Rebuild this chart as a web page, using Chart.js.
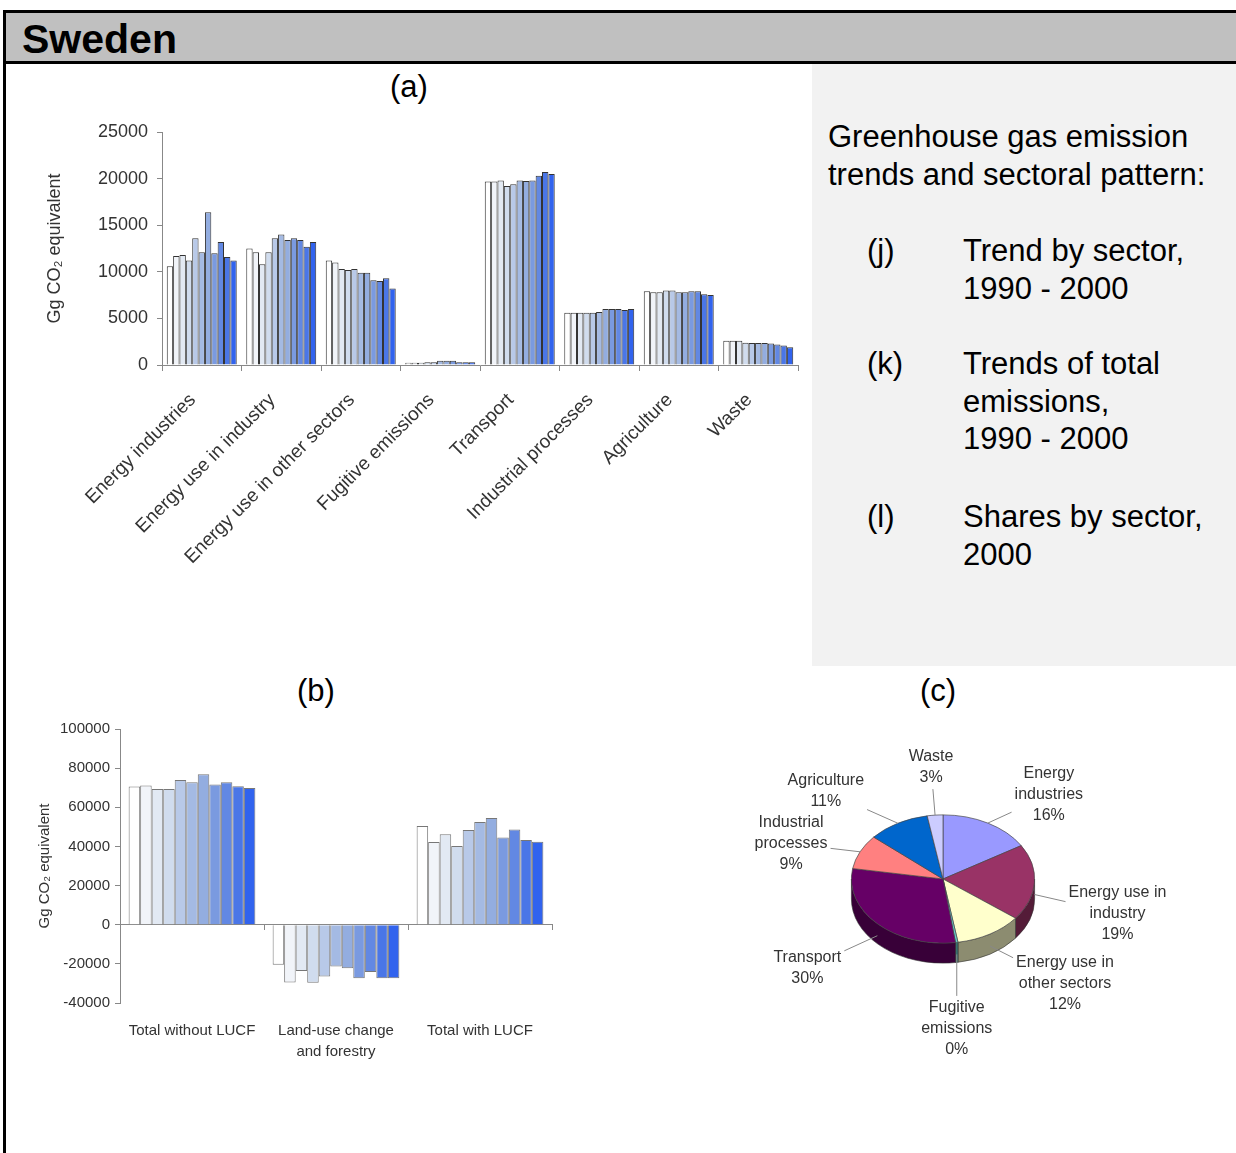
<!DOCTYPE html>
<html>
<head>
<meta charset="utf-8">
<script src="https://cdn.jsdelivr.net/npm/chart.js@4.4.1/dist/chart.umd.min.js"></script>
<style>
  body { margin: 0; width: 1236px; height: 1153px; position: relative; overflow: hidden; background: #fff;
         font-family: "Liberation Sans", Arial, sans-serif; color: #000; }
  .abs { position: absolute; }
  #frameTop { left: 3px; top: 10px; width: 1233px; height: 3px; background: #000; }
  #frameLeft { left: 3px; top: 10px; width: 3px; height: 1143px; background: #000; }
  #header { left: 6px; top: 13px; width: 1230px; height: 48px; background: #c0c0c0; }
  #headerLine { left: 3px; top: 61px; width: 1233px; height: 3px; background: #000; }
  #country { left: 22px; top: 15px; font-size: 41px; font-weight: bold; line-height: 48px; }
  #panel { left: 812px; top: 64px; width: 424px; height: 602px; background: #f2f2f2; }
  .ptxt { font-size: 31px; line-height: 37.7px; white-space: nowrap; }
  .tag { font-size: 31px; line-height: 37.7px; width: 80px; text-align: center; }
  canvas { position: absolute; }
</style>
</head>
<body>
<div class="abs" id="header"></div>
<div class="abs" id="frameTop"></div>
<div class="abs" id="frameLeft"></div>
<div class="abs" id="headerLine"></div>
<div class="abs" id="country">Sweden</div>
<div class="abs" id="panel"></div>

<div class="abs ptxt" style="left:828px; top:118px;">Greenhouse gas emission<br>trends and sectoral pattern:</div>
<div class="abs ptxt" style="left:867px; top:232px;">(j)</div>
<div class="abs ptxt" style="left:963px; top:232px;">Trend by sector,<br>1990 - 2000</div>
<div class="abs ptxt" style="left:867px; top:345px;">(k)</div>
<div class="abs ptxt" style="left:963px; top:345px;">Trends of total<br>emissions,<br>1990 - 2000</div>
<div class="abs ptxt" style="left:867px; top:498px;">(l)</div>
<div class="abs ptxt" style="left:963px; top:498px;">Shares by sector,<br>2000</div>

<div class="abs tag" style="left:369px; top:68px;">(a)</div>
<div class="abs tag" style="left:276px; top:672px;">(b)</div>
<div class="abs tag" style="left:898px; top:672px;">(c)</div>

<canvas id="chartA" width="790" height="500" style="left:30px; top:110px;"></canvas>
<canvas id="chartB" width="570" height="400" style="left:20px; top:700px;"></canvas>
<canvas id="chartC" width="460" height="330" style="left:740px; top:735px;"></canvas>

<script>
// years shown as bars inside every group
const years = ['1990', '1991', '1992', '1993', '1994', '1995', '1996', '1997', '1998', '1999', '2000'];

// (a) trend by sector, Gg CO2 equivalent
const sectors = ['Energy industries', 'Energy use in industry', 'Energy use in other sectors',
  'Fugitive emissions', 'Transport', 'Industrial processes', 'Agriculture', 'Waste'];
const energyIndustries = [10600, 11700, 11800, 11200, 13600, 12100, 16400, 12000, 13200, 11600, 11200];
const energyUseIndustry = [12500, 12100, 10800, 12100, 13600, 14000, 13400, 13600, 13400, 12700, 13200];
const energyUseOther = [11200, 11000, 10300, 10200, 10300, 9900, 9900, 9100, 9000, 9300, 8200];
const fugitive = [250, 250, 250, 300, 300, 450, 450, 450, 300, 300, 300];
const transport = [19700, 19700, 19800, 19200, 19400, 19800, 19750, 19800, 20300, 20700, 20500];
const industrialProcesses = [5600, 5600, 5600, 5600, 5600, 5700, 6000, 6000, 6000, 5900, 6000];
const agriculture = [7900, 7800, 7800, 8000, 8000, 7800, 7800, 7900, 7900, 7600, 7500];
const waste = [2600, 2600, 2600, 2400, 2350, 2350, 2350, 2300, 2200, 2100, 1900];
const yTicksA = { min: 0, max: 25000, step: 5000 };

// (b) totals, Gg CO2 equivalent
const totalLabels = ['Total without LUCF', ['Land-use change', 'and forestry'], 'Total with LUCF'];
const totalWithoutLucf = [70600, 71100, 69400, 69400, 73900, 72800, 76900, 71600, 72800, 70800, 69900];
const lucf = [-20400, -29500, -23600, -29700, -26500, -21400, -22200, -27300, -24100, -27300, -27300];
const totalWithLucf = [50400, 42300, 46200, 40200, 48400, 52500, 54500, 44500, 48600, 43300, 42400];
const yTicksB = { min: -40000, max: 100000, step: 20000 };

// (c) shares by sector in 2000 (last year of each sector series)
const pieNames = [['Energy', 'industries'], ['Energy use in', 'industry'], ['Energy use in', 'other sectors'],
  ['Fugitive', 'emissions'], ['Transport'], ['Industrial', 'processes'], ['Agriculture'], ['Waste']];

const sectorSeries = [energyIndustries, energyUseIndustry, energyUseOther, fugitive,
  transport, industrialProcesses, agriculture, waste];
const pieValues = sectorSeries.map(s => s[s.length - 1]);

const yearColors = ['#ffffff', '#f1f4f9', '#e2e9f3', '#d0dcee', '#b8c9e8', '#a4bae3',
  '#93ade0', '#7a9ae0', '#6288e3', '#4a76e7', '#3163ee'];
const pieColors = ['#9999ff', '#993366', '#ffffcc', '#66cccc', '#660066', '#ff8080', '#0066cc', '#ccccff'];

Chart.defaults.font.family = '"Liberation Sans", Arial, sans-serif';
Chart.defaults.color = '#333';

const plain = v => String(v);

new Chart(document.getElementById('chartA'), {
  type: 'bar',
  data: {
    labels: sectors,
    datasets: years.map((y, j) => ({
      label: y,
      data: sectorSeries.map(s => s[j]),
      backgroundColor: yearColors[j],
      borderColor: '#333',
      borderWidth: 1,
      barPercentage: 1,
      categoryPercentage: 0.88
    }))
  },
  options: {
    responsive: false,
    animation: false,
    events: [],
    layout: { padding: { left: 10, top: 22, right: 22, bottom: 0 } },
    plugins: { legend: { display: false }, tooltip: { enabled: false } },
    scales: {
      x: {
        grid: { offset: true, drawOnChartArea: false, tickLength: 6, color: '#888' },
        border: { color: '#888' },
        ticks: { autoSkip: false, maxRotation: 45, minRotation: 45, padding: 18, labelOffset: -9, font: { size: 19 } },
        afterFit(s) { s.height = 245; }
      },
      y: {
        min: yTicksA.min,
        max: yTicksA.max,
        ticks: { stepSize: yTicksA.step, padding: 9, font: { size: 18 }, callback: plain },
        grid: { drawOnChartArea: false, tickLength: 5, color: '#888' },
        border: { color: '#888' },
        title: { display: true, text: 'Gg CO₂ equivalent', font: { size: 18 }, padding: { top: 4, bottom: 4 } },
        afterFit(s) { s.width = 122; }
      }
    }
  }
});

new Chart(document.getElementById('chartB'), {
  type: 'bar',
  data: {
    labels: totalLabels,
    datasets: years.map((y, j) => ({
      label: y,
      data: [totalWithoutLucf[j], lucf[j], totalWithLucf[j]],
      backgroundColor: yearColors[j],
      borderColor: '#777',
      borderWidth: 1,
      barPercentage: 1,
      categoryPercentage: 0.88
    }))
  },
  options: {
    responsive: false,
    animation: false,
    events: [],
    layout: { padding: { left: 12, top: 29, right: 38, bottom: 0 } },
    plugins: { legend: { display: false }, tooltip: { enabled: false } },
    scales: {
      x: {
        position: { y: 0 },
        offset: true,
        ticks: { display: false },
        grid: { offset: true, drawOnChartArea: false, tickLength: 5, color: '#888' },
        border: { color: '#888' }
      },
      x2: {
        type: 'category',
        labels: totalLabels,
        position: 'bottom',
        offset: true,
        grid: { display: false, drawTicks: false },
        border: { display: false },
        ticks: { padding: 17, font: { size: 15, lineHeight: 1.4 } },
        afterFit(s) { s.height = 97; }
      },
      y: {
        min: yTicksB.min,
        max: yTicksB.max,
        ticks: { stepSize: yTicksB.step, padding: 5, font: { size: 15 }, callback: plain },
        grid: { drawOnChartArea: false, tickLength: 5, color: '#888' },
        border: { color: '#888' },
        title: { display: true, text: 'Gg CO₂ equivalent', font: { size: 15 }, padding: { top: 4, bottom: 4 } },
        afterFit(s) { s.width = 88; }
      }
    }
  }
});

// tilted pie: draws the visible rim from the arc geometry, then squashes the top face
const pie3d = {
  id: 'pie3d',
  beforeDatasetsDraw(chart, args, opts) {
    const ctx = chart.ctx;
    const arcs = chart.getDatasetMeta(0).data;
    const { x: cx, y: cy, outerRadius: r } = arcs[0];
    const k = opts.tilt, depth = opts.depth;
    ctx.save();
    arcs.forEach((arc, i) => {
      const a0 = Math.max(arc.startAngle, 0);
      const a1 = Math.min(arc.endAngle, Math.PI);
      if (a1 <= a0) return;
      ctx.beginPath();
      ctx.ellipse(cx, cy, r, r * k, 0, a0, a1);
      ctx.ellipse(cx, cy + depth, r, r * k, 0, a1, a0, true);
      ctx.closePath();
      ctx.fillStyle = opts.sideColors[i];
      ctx.fill();
      ctx.strokeStyle = '#333';
      ctx.lineWidth = 0.6;
      ctx.stroke();
    });
    ctx.restore();
    ctx.save();
    ctx.translate(cx, cy);
    ctx.scale(1, k);
    ctx.translate(-cx, -cy);
  },
  afterDatasetsDraw(chart, args, opts) {
    const ctx = chart.ctx;
    ctx.restore();
    const arcs = chart.getDatasetMeta(0).data;
    const { x: cx, y: cy, outerRadius: r } = arcs[0];
    const k = opts.tilt, depth = opts.depth;
    const total = pieValues.reduce((a, b) => a + b, 0);
    const lh = 21;
    ctx.save();
    ctx.font = '16px "Liberation Sans", Arial, sans-serif';
    ctx.textAlign = 'center';
    ctx.textBaseline = 'middle';
    arcs.forEach((arc, i) => {
      const m = (arc.startAngle + arc.endAngle) / 2;
      const rx = cx + r * Math.cos(m);
      const ry = cy + r * k * Math.sin(m);
      const [dx, dy] = opts.labelOffsets[i];
      const tx = rx + dx, ty = ry + dy;
      const lines = pieNames[i].concat(Math.round(pieValues[i] / total * 100) + '%');
      const hw = Math.max(...lines.map(l => ctx.measureText(l).width)) / 2 + 3;
      const hh = lines.length * lh / 2 + 1;
      // leader line from the rim to the label box
      const sx = rx, sy = ry + (Math.sin(m) > 0.05 ? depth * 0.6 : 0);
      const vx = sx - tx, vy = sy - ty;
      const t = Math.min(vx ? hw / Math.abs(vx) : Infinity, vy ? hh / Math.abs(vy) : Infinity);
      if (t < 1) {
        ctx.beginPath();
        ctx.moveTo(sx, sy);
        ctx.lineTo(tx + vx * t, ty + vy * t);
        ctx.strokeStyle = '#888';
        ctx.lineWidth = 1;
        ctx.stroke();
      }
      ctx.fillStyle = '#333';
      lines.forEach((l, n) => ctx.fillText(l, tx, ty - (lines.length - 1) * lh / 2 + n * lh));
    });
    ctx.restore();
  }
};

const darken = (hex, f) => {
  const n = parseInt(hex.slice(1), 16);
  const c = [n >> 16, (n >> 8) & 255, n & 255].map(v => Math.round(v * f));
  return `rgb(${c[0]},${c[1]},${c[2]})`;
};

new Chart(document.getElementById('chartC'), {
  type: 'pie',
  data: {
    labels: sectors,
    datasets: [{
      data: pieValues,
      backgroundColor: pieColors,
      borderColor: '#444',
      borderWidth: 0.8
    }]
  },
  options: {
    responsive: false,
    animation: false,
    events: [],
    layout: { padding: { left: 111, top: 52, right: 165, bottom: 94 } },
    plugins: {
      legend: { display: false },
      tooltip: { enabled: false },
      pie3d: {
        tilt: 0.7,
        depth: 20,
        sideColors: pieColors.map(c => darken(c, 0.55)),
        labelOffsets: [[61, -28], [83, 31], [75, 50], [0, 86], [-70, 44], [-69, -8], [-72, -32], [-4, -48]]
      }
    }
  },
  plugins: [pie3d]
});
</script>
</body>
</html>
